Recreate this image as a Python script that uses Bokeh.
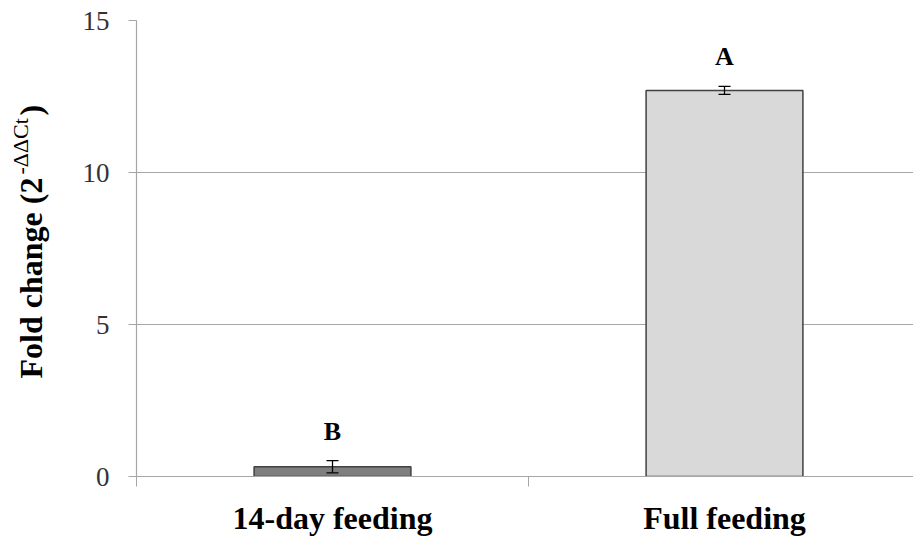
import math
from bokeh.plotting import figure
from bokeh.layouts import row
from bokeh.models import Range1d, FixedTicker, ColumnDataSource, Whisker, TeeHead, Label
from bokeh.embed import file_html
from bokeh.resources import INLINE

categories = ["14-day feeding", "Full feeding"]
fold_change = [0.32, 12.7]
errors = [0.2, 0.13]
letters = ["B", "A"]
bar_colors = ["#7f7f7f", "#d9d9d9"]
y_ticks = [0, 5, 10, 15]

SERIF = "Liberation Serif"
H = 540
TITLE_W = 70
MAIN_W = 913 - TITLE_W
TOP, BOTTOM = 20, 64

xs = [i + 0.5 for i in range(len(categories))]
src = ColumnDataSource(dict(
    x=xs, top=fold_change, err=errors,
    upper=[v + e for v, e in zip(fold_change, errors)],
    lower=[v - e for v, e in zip(fold_change, errors)],
    letter=letters, color=bar_colors,
))

p = figure(width=MAIN_W, height=H, output_backend="svg", toolbar_location=None,
           x_range=Range1d(0, 777 / 392), y_range=Range1d(0, 15),
           min_border_left=136 - TITLE_W, min_border_right=0,
           min_border_top=TOP, min_border_bottom=BOTTOM)
p.outline_line_color = None
p.background_fill_color = "white"

p.vbar(x="x", top="top", bottom=0, width=0.4, fill_color="color",
       line_color="#404040", line_width=1.5, source=src)

w = Whisker(base="x", upper="upper", lower="lower", source=src,
            line_color="black", line_width=1.3, level="overlay",
            upper_head=TeeHead(size=12, line_color="black", line_width=1.3),
            lower_head=TeeHead(size=12, line_color="black", line_width=1.3))
p.add_layout(w)

p.text(x="x", y="upper", text="letter", source=src, y_offset=-15,
       text_align="center", text_baseline="bottom",
       text_font=SERIF, text_font_style="bold", text_font_size="26px",
       text_color="black")

# x axis
p.xaxis.ticker = FixedTicker(ticks=xs, minor_ticks=[0, 1, 2])
p.xaxis.major_label_overrides = {x: c for x, c in zip(xs, categories)}
p.xaxis.major_tick_line_color = None
p.xaxis.major_tick_out = 0
p.xaxis.major_tick_in = 0
p.xaxis.minor_tick_line_color = "#a6a6a6"
p.xaxis.minor_tick_out = 10
p.xaxis.minor_tick_in = 0
p.xaxis.axis_line_color = "#a6a6a6"
p.xaxis.axis_line_width = 1.2
p.xaxis.major_label_standoff = 13
p.xaxis.major_label_text_font = SERIF
p.xaxis.major_label_text_font_style = "bold"
p.xaxis.major_label_text_font_size = "32px"
p.xaxis.major_label_text_color = "black"
p.xgrid.grid_line_color = None

# y axis
p.yaxis.ticker = FixedTicker(ticks=y_ticks, minor_ticks=[])
p.yaxis.major_tick_out = 8
p.yaxis.major_tick_in = 0
p.yaxis.major_tick_line_color = "#a6a6a6"
p.yaxis.axis_line_color = "#a6a6a6"
p.yaxis.axis_line_width = 1.2
p.yaxis.major_label_standoff = 19
p.yaxis.major_label_text_font = SERIF
p.yaxis.major_label_text_font_size = "27px"
p.yaxis.major_label_text_color = "#333333"
p.ygrid.grid_line_color = "#a6a6a6"
p.ygrid.grid_line_width = 1.2

# narrow panel on the left carrying the y-axis title (with superscript)
t = figure(width=TITLE_W, height=H, output_backend="svg", toolbar_location=None,
           x_range=Range1d(0, TITLE_W), y_range=Range1d(H - BOTTOM, TOP),
           min_border_left=0, min_border_right=0,
           min_border_top=TOP, min_border_bottom=BOTTOM,
           x_axis_type=None, y_axis_type=None)
t.outline_line_color = None
t.xgrid.grid_line_color = None
t.ygrid.grid_line_color = None
lab_kw = dict(angle=math.pi / 2, text_font=SERIF, text_color="black",
              text_align="left", text_baseline="alphabetic")
t.add_layout(Label(x=30, y=378, text="Fold change (2", text_font_style="bold",
                   text_font_size="32px", **lab_kw))
t.add_layout(Label(x=20, y=174, text="-ΔΔCt", text_font_style="normal",
                   text_font_size="22px", **lab_kw))
t.add_layout(Label(x=30, y=115, text=")", text_font_style="bold",
                   text_font_size="32px", **lab_kw))

layout = row(t, p, spacing=0)
open("out.html", "w").write(file_html(layout, INLINE))
